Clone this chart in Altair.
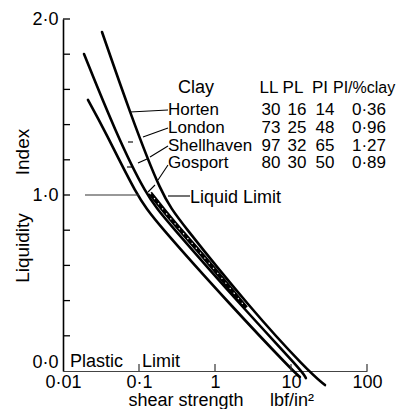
import altair as alt
import pandas as pd

# ---- data ----
clays = ["Horten", "London", "Shellhaven", "Gosport"]
liquid_limit = [30, 73, 97, 80]
plastic_limit = [16, 25, 32, 30]
plasticity_index = [14, 48, 65, 50]
pi_per_clay = [0.36, 0.96, 1.27, 0.89]

# shear strength (lbf/in^2) and liquidity index along each curve
horten_s = [0.0326, 0.0762, 0.200, 0.346, 2.89, 16.7, 28.0]
horten_li = [1.926, 1.466, 0.994, 0.852, 0.358, 0.0, -0.080]
london_s = [0.0189, 0.0483, 0.125, 0.233, 2.34, 13.96, 15.7]
london_li = [1.801, 1.364, 0.994, 0.852, 0.358, 0.0, -0.040]
shell_s = [0.0213, 0.0357, 0.094, 0.163, 1.73, 10.6, 13.1]
shell_li = [1.540, 1.364, 0.994, 0.852, 0.358, 0.0, -0.034]
gosport_s = [0.140, 0.272, 0.809, 2.56]
gosport_li = [1.011, 0.852, 0.625, 0.358]

x_label_values = [0.01, 0.1, 1, 10, 100]
x_tick_values = [0.1, 1, 10, 100]
y_label_values = [0.0, 1.0, 2.0]
y_tick_values = [0.2, 0.4, 0.6, 0.8, 1.0, 1.2, 1.4, 1.6, 1.8, 2.0]
liquid_limit_level = [1.0]

FONT = "Liberation Sans"

rows = []
for name, ss, ls in [("Horten", horten_s, horten_li), ("London", london_s, london_li),
                     ("Shellhaven", shell_s, shell_li)]:
    for i, (s, l) in enumerate(zip(ss, ls)):
        rows.append({"clay": name, "s": s, "li": l, "i": i})
curves = pd.DataFrame(rows)
gos = pd.DataFrame({"s": gosport_s, "li": gosport_li, "i": list(range(len(gosport_s)))})

xs = alt.Scale(type="log", domain=[0.01, 100], nice=False)
ys = alt.Scale(domain=[0, 2], nice=False, zero=False)

x_axis = alt.Axis(values=x_label_values, title=None, ticks=False, grid=False,
                  labelExpr="datum.value < 0.05 ? '0·01' : datum.value < 0.5 ? '0·1' : format(datum.value, 'd')",
                  labelFont=FONT, labelFontSize=18, labelColor="black", labelPadding=2,
                  labelFlush=False, labelOverlap=False, domainColor="#444", domainWidth=1.2)
y_axis = alt.Axis(values=y_label_values, title=None, ticks=False, grid=False,
                  labelExpr="replace(format(datum.value, '.1f'), '.', '·')",
                  labelFont=FONT, labelFontSize=18, labelColor="black", labelPadding=5,
                  labelBaseline={"condition": {"test": "datum.value === 0", "value": "bottom"}, "value": "middle"},
                  labelFlush=False, labelOverlap=False, domainColor="black", domainWidth=1.6)


def X(field):
    return alt.X(field, scale=xs, axis=x_axis)


def Y(field):
    return alt.Y(field, scale=ys, axis=y_axis)


curve_layer = alt.Chart(curves).mark_line(
    interpolate="basis", stroke="black", strokeWidth=2.6, strokeCap="round"
).encode(x=X("s:Q"), y=Y("li:Q"), detail="clay:N", order="i:Q")

gos_thick = alt.Chart(gos).mark_line(
    interpolate="basis", stroke="black", strokeWidth=4.5
).encode(x=X("s:Q"), y=Y("li:Q"), order="i:Q")
gos_specks = alt.Chart(gos).mark_line(
    interpolate="basis", stroke="white", strokeWidth=1.1, strokeDash=[1.5, 5]
).encode(x=X("s:Q"), y=Y("li:Q"), order="i:Q")

ytick_layer = alt.Chart(pd.DataFrame({"v": y_tick_values})).mark_rule(
    color="black", strokeWidth=1.3
).encode(y=Y("v:Q"), x=alt.value(0), x2=alt.value(7))
xtick_layer = alt.Chart(pd.DataFrame({"v": x_tick_values})).mark_rule(
    color="#333", strokeWidth=1.2
).encode(x=X("v:Q"), y=alt.value(352), y2=alt.value(345))

ll_line = alt.Chart(pd.DataFrame({"v": liquid_limit_level})).mark_rule(
    color="#333", strokeWidth=1.1
).encode(y=Y("v:Q"), x=alt.value(22), x2=alt.value(76))


def seg(x1, y1, x2, y2, w=1.1):
    return alt.Chart(pd.DataFrame({"k": [0]})).mark_rule(color="black", strokeWidth=w).encode(
        x=alt.value(x1), y=alt.value(y1), x2=alt.value(x2), y2=alt.value(y2))


leaders = [
    seg(105, 91, 67, 93),      # Horten
    seg(105, 109, 80, 118),    # London
    seg(105, 127, 87, 138),    # Shellhaven
    seg(84, 140, 75, 144),
    seg(105, 146, 95, 161),    # Gosport
    seg(92, 166, 85, 173),
    seg(65, 123, 70, 123),
    seg(64, 148, 69, 148),
    seg(105, 177, 127, 177),   # Liquid Limit leader
]


def label(text, x, y, size=18, align="left", angle=0):
    return alt.Chart(pd.DataFrame({"t": [text]})).mark_text(
        font=FONT, fontSize=size, color="black", align=align, baseline="middle", angle=angle
    ).encode(text="t:N", x=alt.value(x), y=alt.value(y))


annotations = [
    label("Clay", 115, 69),
    label("LL", 206, 69, size=17, align="center"),
    label("PL", 230, 69, size=17, align="center"),
    label("PI", 257, 69, size=17, align="center"),
    label("PI/%clay", 270, 69, size=16),
    label("Liquid Limit", 127, 179),
    label("Plastic", 7, 343),
    label("Limit", 79, 343),
    label("Index", -40, 133, size=19, align="center", angle=270),
    label("Liquidity", -40, 229, size=19, align="center", angle=270),
    label("shear strength", 123, 382, size=18, align="center"),
    label("lbf/in²", 207, 382, size=18),
]

table = pd.DataFrame({
    "clay": clays, "LL": liquid_limit, "PL": plastic_limit, "PI": plasticity_index,
    "ratio": pi_per_clay, "row": list(range(len(clays))),
})
tbase = alt.Chart(table).transform_calculate(
    ty="91 + 17.8 * datum.row",
    rt="replace(format(datum.ratio, '.2f'), '.', '·')",
)


def col(field, x, align, size=17):
    return tbase.mark_text(font=FONT, fontSize=size, color="black", align=align, baseline="middle").encode(
        text=alt.Text(field), x=alt.value(x), y=alt.Y("ty:Q", scale=None, axis=None))


table_layers = [
    col("clay:N", 105, "left", 17),
    col("LL:Q", 208, "center"),
    col("PL:Q", 234, "center"),
    col("PI:Q", 262, "center"),
    col("rt:N", 306, "center"),
]

chart = alt.layer(
    curve_layer, gos_thick, gos_specks, ytick_layer, xtick_layer, ll_line,
    *leaders, *annotations, *table_layers
).properties(
    width=304, height=352, autosize="none",
    padding={"left": 63, "top": 19, "right": 44, "bottom": 38},
    background="white",
).configure_view(stroke=None)

chart.save("out.html", embed_options={"renderer": "svg", "actions": False})
